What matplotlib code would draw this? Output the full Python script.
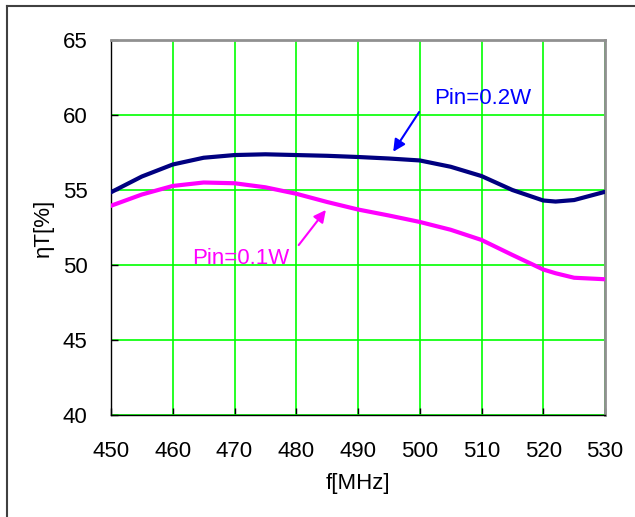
import matplotlib
matplotlib.use('Agg')
from matplotlib import pyplot as plt
from matplotlib.lines import Line2D

plt.rcParams['font.family'] = ['Liberation Sans', 'DejaVu Sans']

# 周波数 [MHz]
freq = [450, 455, 460, 465, 470, 475, 480, 485, 490, 495, 500, 505, 510, 515, 520, 522, 525, 530]
# 効率 Pin=0.2W
eff_02 = [54.85, 55.9, 56.7, 57.15, 57.33, 57.38, 57.33, 57.28, 57.2, 57.1, 56.97, 56.55, 55.93, 55.0, 54.3, 54.23, 54.33, 54.88]
# 効率 Pin=0.1W
eff_01 = [53.95, 54.7, 55.27, 55.5, 55.45, 55.18, 54.75, 54.2, 53.7, 53.3, 52.87, 52.35, 51.67, 50.67, 49.7, 49.45, 49.15, 49.05]

xticks = [450, 460, 470, 480, 490, 500, 510, 520, 530]
yticks = [40, 45, 50, 55, 60, 65]

fig = plt.figure(figsize=(6.35, 5.17), dpi=100)
ax = fig.add_axes([111/635, 102/517, 494/635, 375/517])

ax.plot(freq, eff_02, color='#000080', lw=3, solid_joinstyle='round', zorder=3)
ax.plot(freq, eff_01, color='#ff00ff', lw=3, solid_joinstyle='round', zorder=3)

ax.set_xlim(450, 530)
ax.set_ylim(40, 65)
ax.set_xticks(xticks)
ax.set_yticks(yticks)
ax.grid(True, color='#00ff00', lw=1.2)
ax.set_axisbelow(True)
ax.tick_params(direction='in', length=5, width=1, labelsize=16)
ax.tick_params(axis='x', pad=19)
ax.tick_params(axis='y', pad=17)

for s in ['top', 'right']:
    ax.spines[s].set_color('#909090')
    ax.spines[s].set_linewidth(2)
for s in ['left', 'bottom']:
    ax.spines[s].set_color('black')
    ax.spines[s].set_linewidth(1)

ax.set_xlabel('f[MHz]', fontsize=16, labelpad=8)
ax.set_ylabel('ηT[%]', fontsize=16, labelpad=6)

# 注釈
ax.text(502.3, 61.07, 'Pin=0.2W', color='#0000ff', fontsize=16, va='center', ha='left')
ax.annotate('', xy=(495.7, 57.55), xytext=(499.9, 60.2),
            arrowprops=dict(arrowstyle='-|>', color='#0000ff', lw=1.5,
                            mutation_scale=18, shrinkA=0, shrinkB=0))
ax.text(463.1, 50.4, 'Pin=0.1W', color='#ff00ff', fontsize=16, va='center', ha='left')
ax.annotate('', xy=(484.8, 53.67), xytext=(480.4, 51.33),
            arrowprops=dict(arrowstyle='-|>', color='#ff00ff', lw=1.5,
                            mutation_scale=18, shrinkA=0, shrinkB=0))

# 外枠
fig.add_artist(Line2D([7/635, 7/635], [0, 1 - 6/517], transform=fig.transFigure, color='#404040', lw=1.5))
fig.add_artist(Line2D([7/635, 1], [1 - 6/517, 1 - 6/517], transform=fig.transFigure, color='#404040', lw=1.5))

fig.savefig('out.png', dpi=100)
